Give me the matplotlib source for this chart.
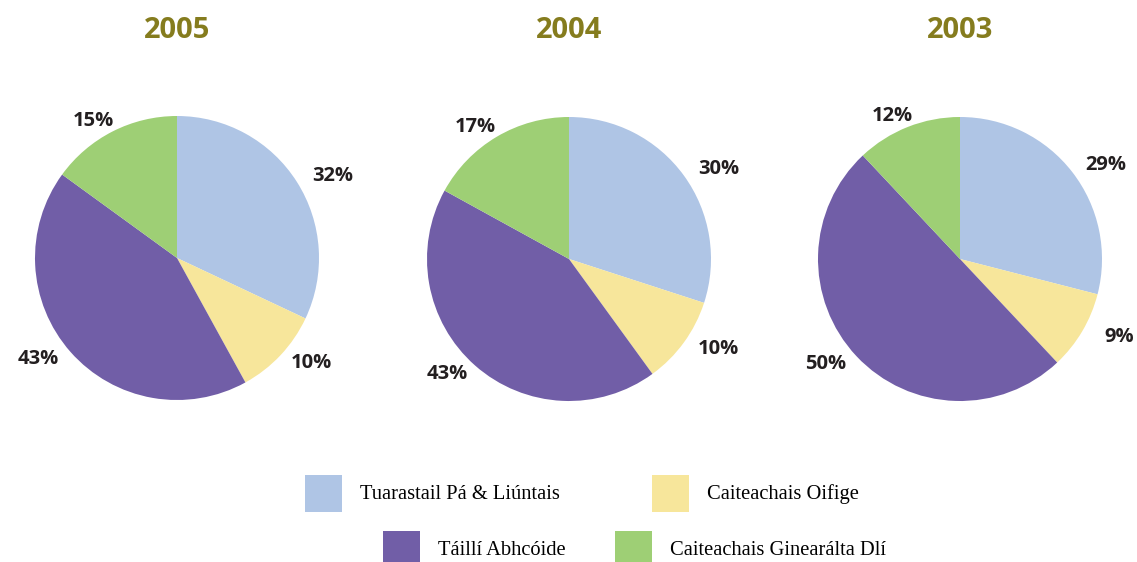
import numpy as np
import matplotlib
matplotlib.use("Agg")
import matplotlib.pyplot as plt
from matplotlib.patches import Patch

# data
YEARS = ["2005", "2004", "2003"]
CATEGORIES = ["Tuarastail Pá & Liúntais", "Caiteachais Oifige",
              "Táillí Abhcóide", "Caiteachais Ginearálta Dlí"]
SHARES = {
    "2005": [32, 10, 43, 15],
    "2004": [30, 10, 43, 17],
    "2003": [29, 9, 50, 12],
}
COLORS = ["#afc5e5", "#f7e69b", "#715ea7", "#9ecf75"]
TITLE_COLOR = "#857c1e"
TEXT_COLOR = "#231f20"

W, H = 1137, 562
fig = plt.figure(figsize=(W / 100, H / 100), dpi=100)

# pie centres (px) and radius
centres = [(177, 258), (569, 259), (960, 259)]
R = 142
# labels sit on a flattened ellipse around the pie
LAB_RX, LAB_RY = 1.30, 1.08

for year, (cx, cy) in zip(YEARS, centres):
    ax = fig.add_axes([(cx - R) / W, 1 - (cy + R) / H, 2 * R / W, 2 * R / H])
    vals = SHARES[year]
    wedges, _ = ax.pie(vals, colors=COLORS, startangle=90, counterclock=False,
                       wedgeprops=dict(linewidth=0))
    for w, v in zip(wedges, vals):
        mid = np.deg2rad((w.theta1 + w.theta2) / 2)
        ax.text(LAB_RX * np.cos(mid), LAB_RY * np.sin(mid), f"{v}%",
                ha="center", va="center", family="Open Sans", fontweight="bold",
                fontsize=14.5, color=TEXT_COLOR, clip_on=False)
    ax.set_xlim(-1, 1)
    ax.set_ylim(-1, 1)
    ax.set_aspect("auto")
    fig.text(cx / W, 1 - 30 / H, year, ha="center", va="center",
             fontsize=21, fontweight="bold", family="Open Sans", color=TITLE_COLOR)

# legend: two rows, offset like the original
fs = 14.75
px = fs * 100 / 72
hh = (37 / px - 0.245) / 0.65
rows = [([0, 1], 305, 493, 4.5), ([2, 3], 383, 549, 2.4)]
for idx, x0, y0, colsp in rows:
    handles = [Patch(facecolor=COLORS[i], edgecolor="none") for i in idx]
    fig.legend(handles, [CATEGORIES[i] for i in idx], ncol=2, frameon=False,
               loc="center left", bbox_to_anchor=(x0 / W, 1 - y0 / H),
               borderpad=0, borderaxespad=0, handlelength=37 / px,
               handleheight=hh, handletextpad=18 / px, columnspacing=colsp,
               prop=dict(family="Liberation Serif", size=fs))

fig.savefig("out.png", dpi=100, facecolor="white")
